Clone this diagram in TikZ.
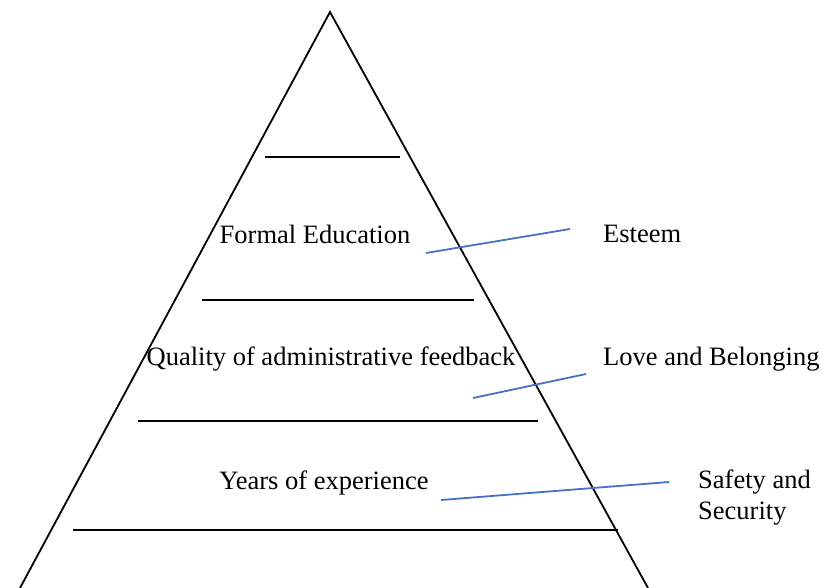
\documentclass[tikz,border=0pt]{standalone}
\usepackage{fontspec}
\setmainfont{Liberation Serif}
\begin{document}
\begin{tikzpicture}[x=1pt,y=-1pt,
  edge/.style={black,line width=1.8pt},
  link/.style={draw=linkblue,line width=1.8pt},
  lbl/.style={inner sep=0pt,font=\fontsize{26.5}{31}\selectfont}]
\definecolor{linkblue}{RGB}{68,114,196}
\useasboundingbox (0,0) rectangle (822,588);
% pyramid outline
\coordinate (apex) at (330,12);
\coordinate (bl) at (20,588);
\coordinate (br) at (648,588);
\draw[edge] (bl) -- (apex) -- (br);
% level dividers
\coordinate (d1a) at (265,157); \coordinate (d1b) at (400,157);
\coordinate (d2a) at (202,300); \coordinate (d2b) at (474,300);
\coordinate (d3a) at (138,421); \coordinate (d3b) at (538,421);
\coordinate (d4a) at (73,530);  \coordinate (d4b) at (618,530);
\draw[edge] (d1a) -- (d1b);
\draw[edge] (d2a) -- (d2b);
\draw[edge] (d3a) -- (d3b);
\draw[edge] (d4a) -- (d4b);
% level labels
\node[lbl] (formal) at (315,234) {Formal Education};
\node[lbl] (quality) at (331,359) {Quality of administrative feedback};
\node[lbl] (years) at (324,483) {Years of experience};
% needs
\node[lbl,anchor=west] (esteem) at (603,234) {Esteem};
\node[lbl,anchor=west] (love) at (603,359) {Love and Belonging};
\node[lbl,anchor=west,align=left] (safety) at (698,498) {Safety and\\Security};
% connectors
\coordinate (e1) at (426,253); \coordinate (e2) at (570,229);
\coordinate (l1) at (473,398); \coordinate (l2) at (586,374);
\coordinate (s1) at (441,500); \coordinate (s2) at (669,482);
\draw[link] (e1) -- (e2);
\draw[link] (l1) -- (l2);
\draw[link] (s1) -- (s2);
\end{tikzpicture}
\end{document}
